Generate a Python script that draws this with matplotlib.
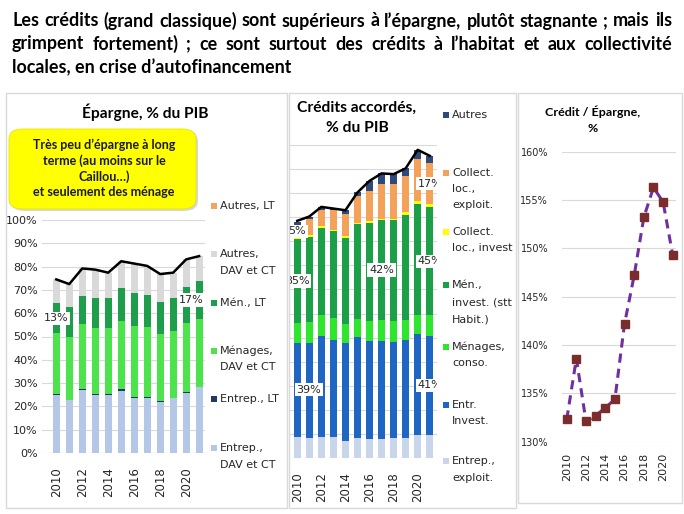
import matplotlib.pyplot as plt
import numpy as np
from matplotlib import font_manager
from matplotlib.patches import Rectangle, FancyBboxPatch

# ---- data ----
years = [2010, 2011, 2012, 2013, 2014, 2015, 2016, 2017, 2018, 2019, 2020, 2021]

# Epargne, % du PIB
ep_entrep_dav = [24.9, 22.7, 27.0, 25.0, 25.0, 26.8, 23.7, 23.7, 21.8, 23.4, 25.9, 28.2]
ep_entrep_lt = [0.3, 0.2, 0.5, 0.2, 0.2, 0.5, 0.2, 0.2, 0.6, 0.2, 0.2, 0.2]
ep_men_dav = [26.1, 27.1, 27.8, 28.3, 28.3, 29.5, 30.6, 30.1, 28.7, 28.7, 29.9, 29.0]
ep_men_lt = [12.9, 12.5, 12.1, 12.9, 12.9, 13.9, 14.3, 13.8, 13.8, 14.1, 15.2, 16.6]
ep_autres_dav = [10.3, 10.0, 11.8, 12.3, 11.0, 11.6, 12.5, 12.5, 11.9, 11.0, 11.9, 10.5]
ep_autres_lt = [0, 0, 0, 0, 0, 0, 0, 0, 0, 0, 0, 0]
ep_total = [74.5, 72.5, 79.2, 78.7, 77.4, 82.3, 81.3, 80.3, 76.8, 77.4, 83.1, 84.5]

# Credits accordes, % du PIB
cr_entrep_exploit = [8.9, 8.2, 8.9, 8.9, 7.2, 8.2, 7.8, 7.8, 8.2, 8.2, 9.6, 9.6]
cr_entr_invest = [38.9, 39.6, 41.6, 40.3, 40.6, 42.1, 40.7, 40.7, 39.8, 41.0, 41.7, 41.2]
cr_men_conso = [8.3, 8.6, 9.1, 9.0, 8.0, 7.5, 8.3, 8.7, 8.8, 8.0, 8.3, 8.4]
cr_men_invest = [34.8, 35.4, 36.1, 36.1, 35.7, 39.3, 41.0, 41.7, 41.9, 43.6, 45.8, 45.1]
cr_coll_invest = [0.5, 1.0, 0.8, 0.5, 0.8, 0.5, 0.5, 0.5, 0.5, 1.2, 1.5, 1.0]
cr_coll_exploit = [5.4, 6.4, 6.5, 8.2, 9.0, 11.3, 12.7, 14.4, 14.5, 15.2, 17.3, 17.4]
cr_autres = [1.2, 1.1, 1.3, 0.6, 1.6, 1.4, 4.1, 4.4, 4.2, 3.1, 3.8, 2.8]
cr_total = [98.5, 100.3, 104.3, 103.6, 102.9, 110.3, 115.1, 118.2, 117.9, 120.3, 128.0, 125.5]

# Credit / Epargne, %
ratio = [132.3, 138.6, 132.1, 132.7, 133.5, 134.4, 142.2, 147.2, 153.2, 156.3, 154.8, 149.3]

W, H = 684, 514
SANS = 'DejaVu Sans'
GRID = '#D9D9D9'
TXT = '#262626'


def first_font(names):
    for n in names:
        try:
            font_manager.findfont(font_manager.FontProperties(family=n),
                                  fallback_to_default=False)
            return n
        except ValueError:
            continue
    return SANS


NARROW = [first_font(['Liberation Sans Narrow', 'Lato', 'Roboto']), SANS]

fig = plt.figure(figsize=(W / 100, H / 100), dpi=100)
renderer = fig.canvas.get_renderer()


def box(x0, y0, x1, y1):
    return [x0 / W, 1 - y1 / H, (x1 - x0) / W, (y1 - y0) / H]


def fx(x):
    return x / W


def fy(y):
    return 1 - y / H


def fit_text(xc, yc, s, width, size, ha='center', **kw):
    # bold narrow text resized to the width it has in the picture
    t = fig.text(fx(xc), fy(yc), s, fontsize=size, fontweight='bold', family=NARROW,
                 ha=ha, va='center', **kw)
    w = t.get_window_extent(renderer).width
    t.set_fontsize(size * width / w)
    return t


# ---- main title, justified like the original ----
title_lines = [
    "Les crédits (grand classique) sont supérieurs à l’épargne, plutôt stagnante ; mais ils",
    "grimpent fortement) ; ce sont surtout des crédits à l’habitat  et aux collectivité",
    "locales, en crise d’autofinancement",
]
probe = fig.text(0, 0, title_lines[0], fontsize=13, fontweight='bold', family=NARROW)
tsize = min(13 * 648 / probe.get_window_extent(renderer).width, 14)
probe.remove()
for i, line in enumerate(title_lines):
    y = fy(21 + 23 * i)
    if i < 2:
        words = line.split()
        arts = [fig.text(0, y, w, fontsize=tsize, fontweight='bold', family=NARROW,
                         va='center', color='black') for w in words]
        widths = [a.get_window_extent(renderer).width for a in arts]
        gap = (660 - sum(widths)) / (len(words) - 1)
        xx = 12
        for a, w in zip(arts, widths):
            a.set_x(fx(xx))
            xx += w + gap
    else:
        fig.text(fx(12), y, line, fontsize=tsize, fontweight='bold', family=NARROW,
                 va='center', color='black')

# ---- panel frames ----
for x0, x1, y1 in [(6, 287, 508), (289, 516, 508), (518, 682, 503)]:
    fig.add_artist(Rectangle((fx(x0), fy(y1)), (x1 - x0) / W, (y1 - 93) / H,
                             transform=fig.transFigure, fill=False, ec=GRID, lw=1))


def style_axes(ax):
    for s in ax.spines.values():
        s.set_visible(False)
    ax.yaxis.grid(True, color=GRID, lw=0.8)
    ax.set_axisbelow(True)
    ax.tick_params(length=0, colors=TXT)


def legend_entry(x, y, text, color, step=16.5, clip=None):
    fig.add_artist(Rectangle((fx(x), fy(y + 2.8)), 5.5 / W, 5.5 / H,
                             transform=fig.transFigure, color=color, lw=0))
    for k, part in enumerate(text.split('\n')):
        t = fig.text(fx(x + 9), fy(y + k * step), part, fontsize=8, family=SANS,
                     va='center', color=TXT)
        if clip is not None:
            t.set_clip_path(clip)


x = np.arange(len(years))
even = x[::2]
even_labels = [str(years[i]) for i in even]

# ---- left chart: Epargne ----
ax1 = fig.add_axes(box(42, 220, 205, 453))
ep_series = [ep_entrep_dav, ep_entrep_lt, ep_men_dav, ep_men_lt, ep_autres_dav, ep_autres_lt]
ep_colors = ['#B4C7E7', '#1F3864', '#4DE34D', '#1E9E4A', '#D9D9D9', '#F4A460']
bottom = np.zeros(len(years))
for vals, col in zip(ep_series, ep_colors):
    ax1.bar(x, vals, 0.55, bottom=bottom, color=col, zorder=2)
    bottom += np.array(vals)
ax1.plot(x, ep_total, color='black', lw=1.8, zorder=3)
ax1.set_ylim(0, 100)
ax1.set_xlim(-1.1, 11.45)
ax1.set_yticks(range(0, 101, 10))
ax1.set_yticklabels([f'{v}%' for v in range(0, 101, 10)], fontsize=8, family=SANS)
ax1.set_xticks(even)
ax1.set_xticklabels(even_labels, rotation=90, fontsize=8.5, family=SANS)
style_axes(ax1)
ax1.tick_params(axis='x', pad=10)
ax1.tick_params(axis='y', pad=3)
lab = dict(ha='center', va='center', fontsize=8, family=SANS, color=TXT, zorder=5,
           bbox=dict(boxstyle='square,pad=0.15', fc='white', ec='none'))
ax1.text(0, ep_entrep_dav[0] + ep_entrep_lt[0] + ep_men_dav[0] + ep_men_lt[0] / 2,
         f'{ep_men_lt[0]:.0f}%', **lab)
ax1.text(10.4, ep_entrep_dav[11] + ep_entrep_lt[11] + ep_men_dav[11] + ep_men_lt[11] / 2,
         f'{ep_men_lt[11]:.0f}%', **lab)

fit_text(145, 112, 'Épargne, % du PIB', 126, 11)

# yellow note box
fig.add_artist(FancyBboxPatch((fx(11), fy(211)), 187 / W, 80 / H,
                              boxstyle='round,pad=0,rounding_size=0.02',
                              transform=fig.transFigure, fc='#BFBFBF', ec='none', alpha=0.6))
fig.add_artist(FancyBboxPatch((fx(9), fy(209)), 187 / W, 80 / H,
                              boxstyle='round,pad=0,rounding_size=0.02',
                              transform=fig.transFigure, fc='#FFFF00', ec='#E6E600', lw=0.6))
note = ['Très peu d’épargne à long', 'terme (au moins sur le', 'Caillou…)',
        'et seulement des ménage']
nt = fit_text(104, 145, note[0], 143, 9, color='#1A1A1A')
nsize = nt.get_fontsize()
for k, part in enumerate(note[1:], start=1):
    fig.text(fx(104), fy(145 + 15.6 * k), part, fontsize=nsize, fontweight='bold',
             family=NARROW, ha='center', va='center', color='#1A1A1A')

legend_entry(211, 206, 'Autres, LT', '#F4A460')
legend_entry(211, 254, 'Autres,\nDAV et CT', '#D9D9D9')
legend_entry(211, 303, 'Mén., LT', '#1E9E4A')
legend_entry(211, 351, 'Ménages,\nDAV et CT', '#4DE34D')
legend_entry(211, 399, 'Entrep., LT', '#1F3864')
legend_entry(211, 448, 'Entrep.,\nDAV et CT', '#B4C7E7')

# ---- middle chart: Credits ----
ax2 = fig.add_axes(box(290, 145, 437, 458))
cr_series = [cr_entrep_exploit, cr_entr_invest, cr_men_conso, cr_men_invest,
             cr_coll_invest, cr_coll_exploit, cr_autres]
cr_colors = ['#C9D5EA', '#1F66C2', '#2EE62E', '#1BA049', '#FFFF00', '#F4A15A', '#2E4A7A']
bottom = np.zeros(len(years))
bottoms = []
for vals, col in zip(cr_series, cr_colors):
    bottoms.append(bottom.copy())
    ax2.bar(x, vals, 0.55, bottom=bottom, color=col, zorder=2)
    bottom += np.array(vals)
ax2.plot(x, cr_total, color='black', lw=1.8, zorder=3)
ax2.set_ylim(0, 130)
ax2.set_xlim(-0.6, 11.6)
ax2.set_yticks(range(0, 131, 10))
ax2.set_yticklabels([])
ax2.set_xticks(even)
ax2.set_xticklabels(even_labels, rotation=90, fontsize=8.5, family=SANS)
style_axes(ax2)
ax2.tick_params(axis='x', pad=10)
# (series, year, x shift) of the value labels
for si, yi, dx in [(5, 0, 0), (3, 0, 0), (1, 0, 0.95), (3, 7, 0), (3, 11, 0),
                   (1, 11, 0), (5, 11, 0)]:
    v = cr_series[si][yi]
    ax2.text(yi + dx, bottoms[si][yi] + v / 2, f'{v:.0f}%', clip_on=True, **lab)

t = fit_text(357, 108, 'Crédits accordés,', 119, 11)
fig.text(fx(357), fy(128), '% du PIB', fontsize=t.get_fontsize(), fontweight='bold',
         family=NARROW, ha='center', va='center')

clip_mid = Rectangle((fx(289), fy(508)), 227 / W, 415 / H, transform=fig.transFigure)
legend_entry(443, 115, 'Autres', '#2E4A7A', clip=clip_mid)
legend_entry(443, 173, 'Collect.\nloc.,\nexploit.', '#F4A15A', step=16, clip=clip_mid)
legend_entry(443, 232, 'Collect.\nloc., invest', '#FFFF00', step=16, clip=clip_mid)
legend_entry(443, 285, 'Mén.,\ninvest. (stt\nHabit.)', '#1BA049', step=17.5, clip=clip_mid)
legend_entry(443, 347, 'Ménages,\nconso.', '#2EE62E', step=16, clip=clip_mid)
legend_entry(443, 405, 'Entr.\nInvest.', '#1F66C2', step=16, clip=clip_mid)
legend_entry(443, 461, 'Entrep.,\nexploit.', '#C9D5EA', step=17, clip=clip_mid)

# ---- right chart: Credit / Epargne ----
ax3 = fig.add_axes(box(562, 151.7, 676, 441.7))
ax3.plot(x, ratio, color='#7030A0', lw=2.2, ls=(0, (3, 2)), zorder=2, clip_on=False)
ax3.plot(x, ratio, ls='none', marker='s', ms=6.2, color='#7B2C2C', zorder=3, clip_on=False)
ax3.set_ylim(130, 160)
ax3.set_xlim(-0.49, 11.34)
ax3.set_yticks(range(130, 161, 5))
ax3.set_yticklabels([f'{v}%' for v in range(130, 161, 5)], fontsize=7, family=SANS)
ax3.set_xticks(even)
ax3.set_xticklabels(even_labels, rotation=90, fontsize=8, family=SANS)
style_axes(ax3)
ax3.tick_params(axis='x', pad=8)
ax3.tick_params(axis='y', pad=10)

t = fit_text(593, 112, 'Crédit / Épargne,', 95, 9)
fig.text(fx(593), fy(129), '%', fontsize=t.get_fontsize(), fontweight='bold',
         family=NARROW, ha='center', va='center')

fig.savefig('out.png', dpi=100)
